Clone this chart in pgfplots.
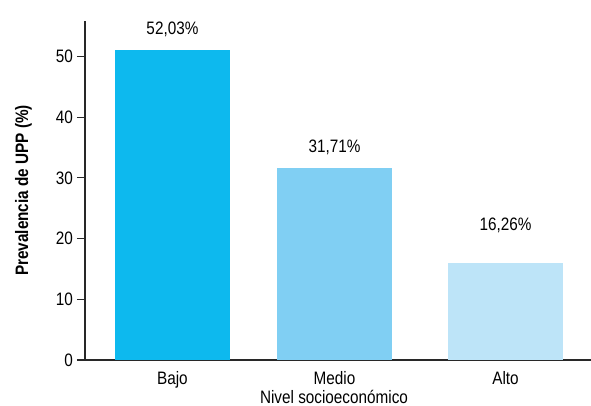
\documentclass[border=0pt]{standalone}
\usepackage{fontspec}
\setmainfont{Liberation Sans}[FakeStretch=0.85]
\usepackage{pgfplots}
\pgfplotsset{compat=1.18}
\definecolor{cBajo}{RGB}{13,185,238}
\definecolor{cMedio}{RGB}{128,207,243}
\definecolor{cAlto}{RGB}{189,228,248}
\definecolor{axc}{RGB}{40,40,40}
\begin{document}
\fontsize{18bp}{20bp}\selectfont
\begin{tikzpicture}
\path[use as bounding box] (-85bp,-46bp) rectangle (506bp,360bp);
\begin{axis}[
  at={(0,0)}, anchor=south west,
  scale only axis,
  width=506bp, height=339.3bp,
  xmin=-0.525, xmax=2.513,
  ymin=0, ymax=55.9,
  axis x line=bottom, axis y line=left,
  axis line style={axc, line width=1.3bp, -},
  xtick={0,0.973,2}, xticklabels={Bajo,Medio,Alto},
  xtick style={draw=none},
  ytick={0,10,20,30,40,50},
  ytick style={axc, line width=1.1bp},
  tick align=outside,
  major tick length=8bp,
  /pgf/number format/assume math mode=true,
  tick label style={font=\fontsize{18bp}{20bp}\selectfont, text=black},
  xticklabel style={yshift=-2bp, inner sep=1bp},
  yticklabel style={xshift=2bp},
  xlabel={Nivel socioecon\'omico},
  xlabel style={font=\fontsize{18bp}{20bp}\selectfont, inner sep=1bp, at={(axis description cs:0.5,0)}, xshift=-4bp, yshift=-37bp, anchor=center},
  ylabel={\bfseries Prevalencia de UPP (\%)},
  ylabel style={font=\fontsize{18bp}{20bp}\selectfont\bfseries, at={(axis description cs:0,0.5)}, yshift=47bp, anchor=south},
  clip=false,
]
\addplot[ybar, bar width=115bp, fill=cBajo, draw=none] coordinates {(0,51.0)};
\addplot[ybar, bar width=115bp, fill=cMedio, draw=none] coordinates {(0.973,31.65)};
\addplot[ybar, bar width=115bp, fill=cAlto, draw=none] coordinates {(2,16.05)};
\node at (axis cs:0,54.4) {52,03\%};
\node at (axis cs:0.973,35.1) {31,71\%};
\node at (axis cs:2,22.2) {16,26\%};
\end{axis}
\end{tikzpicture}
\end{document}
